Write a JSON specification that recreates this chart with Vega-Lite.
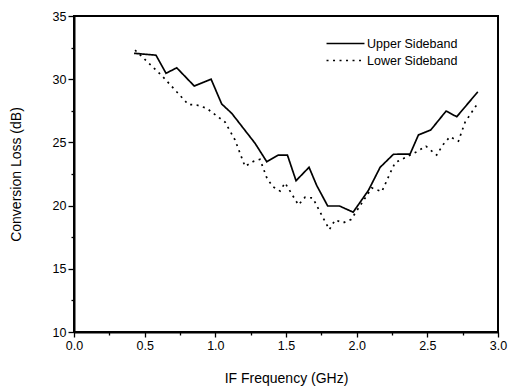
{
  "$schema": "https://vega.github.io/schema/vega-lite/v6.json",
  "width": 424,
  "height": 316,
  "autosize": {"type": "none"},
  "padding": {"left": 74, "top": 16, "right": 13, "bottom": 57},
  "background": "white",
  "config": {
    "font": "Liberation Sans",
    "view": {"stroke": "black", "strokeWidth": 2},
    "axis": {
      "domainColor": "black", "domainWidth": 2, "tickColor": "black", "tickWidth": 1.3,
      "labelColor": "black", "titleColor": "black", "labelFont": "Liberation Sans",
      "titleFont": "Liberation Sans", "labelFontSize": 12.5, "titleFontSize": 14,
      "titleFontWeight": "normal", "grid": false, "labelOverlap": false, "labelFlush": false
    }
  },
  "data": {"values": [
    {"f": 0.425, "loss": 32.05, "band": "Upper Sideband"},
    {"f": 0.58, "loss": 31.9, "band": "Upper Sideband"},
    {"f": 0.651, "loss": 30.47, "band": "Upper Sideband"},
    {"f": 0.727, "loss": 30.9, "band": "Upper Sideband"},
    {"f": 0.851, "loss": 29.46, "band": "Upper Sideband"},
    {"f": 0.97, "loss": 30.0, "band": "Upper Sideband"},
    {"f": 1.045, "loss": 28.04, "band": "Upper Sideband"},
    {"f": 1.116, "loss": 27.3, "band": "Upper Sideband"},
    {"f": 1.281, "loss": 24.93, "band": "Upper Sideband"},
    {"f": 1.364, "loss": 23.47, "band": "Upper Sideband"},
    {"f": 1.446, "loss": 24.0, "band": "Upper Sideband"},
    {"f": 1.51, "loss": 24.0, "band": "Upper Sideband"},
    {"f": 1.571, "loss": 21.97, "band": "Upper Sideband"},
    {"f": 1.663, "loss": 23.03, "band": "Upper Sideband"},
    {"f": 1.717, "loss": 21.6, "band": "Upper Sideband"},
    {"f": 1.795, "loss": 19.97, "band": "Upper Sideband"},
    {"f": 1.878, "loss": 19.97, "band": "Upper Sideband"},
    {"f": 1.975, "loss": 19.48, "band": "Upper Sideband"},
    {"f": 2.083, "loss": 21.2, "band": "Upper Sideband"},
    {"f": 2.166, "loss": 23.03, "band": "Upper Sideband"},
    {"f": 2.26, "loss": 24.06, "band": "Upper Sideband"},
    {"f": 2.378, "loss": 24.08, "band": "Upper Sideband"},
    {"f": 2.437, "loss": 25.59, "band": "Upper Sideband"},
    {"f": 2.524, "loss": 25.98, "band": "Upper Sideband"},
    {"f": 2.633, "loss": 27.48, "band": "Upper Sideband"},
    {"f": 2.708, "loss": 27.03, "band": "Upper Sideband"},
    {"f": 2.857, "loss": 29.0, "band": "Upper Sideband"},
    {"f": 0.432, "loss": 32.3, "band": "Lower Sideband"},
    {"f": 0.62, "loss": 30.3, "band": "Lower Sideband"},
    {"f": 0.809, "loss": 28.0, "band": "Lower Sideband"},
    {"f": 0.868, "loss": 27.96, "band": "Lower Sideband"},
    {"f": 0.939, "loss": 27.7, "band": "Lower Sideband"},
    {"f": 0.998, "loss": 27.2, "band": "Lower Sideband"},
    {"f": 1.069, "loss": 26.6, "band": "Lower Sideband"},
    {"f": 1.139, "loss": 25.2, "band": "Lower Sideband"},
    {"f": 1.21, "loss": 23.1, "band": "Lower Sideband"},
    {"f": 1.27, "loss": 23.5, "band": "Lower Sideband"},
    {"f": 1.316, "loss": 23.66, "band": "Lower Sideband"},
    {"f": 1.364, "loss": 22.2, "band": "Lower Sideband"},
    {"f": 1.406, "loss": 21.5, "band": "Lower Sideband"},
    {"f": 1.458, "loss": 21.15, "band": "Lower Sideband"},
    {"f": 1.493, "loss": 21.8, "band": "Lower Sideband"},
    {"f": 1.588, "loss": 20.05, "band": "Lower Sideband"},
    {"f": 1.635, "loss": 20.66, "band": "Lower Sideband"},
    {"f": 1.69, "loss": 20.6, "band": "Lower Sideband"},
    {"f": 1.764, "loss": 19.0, "band": "Lower Sideband"},
    {"f": 1.807, "loss": 18.1, "band": "Lower Sideband"},
    {"f": 1.847, "loss": 18.86, "band": "Lower Sideband"},
    {"f": 1.906, "loss": 18.65, "band": "Lower Sideband"},
    {"f": 1.96, "loss": 18.9, "band": "Lower Sideband"},
    {"f": 2.107, "loss": 21.4, "band": "Lower Sideband"},
    {"f": 2.178, "loss": 21.1, "band": "Lower Sideband"},
    {"f": 2.236, "loss": 22.55, "band": "Lower Sideband"},
    {"f": 2.272, "loss": 23.4, "band": "Lower Sideband"},
    {"f": 2.425, "loss": 24.26, "band": "Lower Sideband"},
    {"f": 2.49, "loss": 24.7, "band": "Lower Sideband"},
    {"f": 2.566, "loss": 24.0, "band": "Lower Sideband"},
    {"f": 2.61, "loss": 24.8, "band": "Lower Sideband"},
    {"f": 2.66, "loss": 25.45, "band": "Lower Sideband"},
    {"f": 2.72, "loss": 25.1, "band": "Lower Sideband"},
    {"f": 2.767, "loss": 26.6, "band": "Lower Sideband"},
    {"f": 2.857, "loss": 28.1, "band": "Lower Sideband"}
  ]},
  "mark": {"type": "line", "color": "black", "strokeWidth": 1.7, "strokeCap": "butt"},
  "encoding": {
    "x": {
      "field": "f", "type": "quantitative",
      "scale": {"domain": [0, 3], "nice": false, "zero": false},
      "axis": {
        "title": "IF Frequency (GHz)",
        "values": [0, 0.25, 0.5, 0.75, 1, 1.25, 1.5, 1.75, 2, 2.25, 2.5, 2.75, 3],
        "labelExpr": "abs(datum.value*2 - round(datum.value*2)) < 0.001 ? format(datum.value, '.1f') : ''",
        "tickSize": {"condition": {"test": "abs(datum.value*2 - round(datum.value*2)) < 0.001", "value": 5}, "value": 3},
        "labelPadding": 2,
        "titlePadding": 20
      }
    },
    "y": {
      "field": "loss", "type": "quantitative",
      "scale": {"domain": [10, 35], "nice": false, "zero": false},
      "axis": {
        "title": "Conversion Loss (dB)",
        "values": [10, 12.5, 15, 17.5, 20, 22.5, 25, 27.5, 30, 32.5, 35],
        "labelExpr": "datum.value % 5 === 0 ? format(datum.value, 'd') : ''",
        "tickSize": {"condition": {"test": "datum.value % 5 === 0", "value": 6}, "value": 3},
        "labelPadding": 2,
        "titlePadding": 29
      }
    },
    "strokeDash": {
      "field": "band", "type": "nominal",
      "scale": {"domain": ["Upper Sideband", "Lower Sideband"], "range": [[1, 0], [2, 4.5]]},
      "legend": {
        "title": null, "orient": "none", "legendX": 264, "legendY": 20,
        "symbolType": "M-3,0H3", "symbolSize": 160, "symbolStrokeWidth": 1.7,
        "symbolStrokeColor": "black", "symbolFillColor": "transparent", "labelFontSize": 12.5, "labelColor": "black",
        "labelFont": "Liberation Sans", "labelOffset": 14, "rowPadding": 3
      }
    }
  }
}
